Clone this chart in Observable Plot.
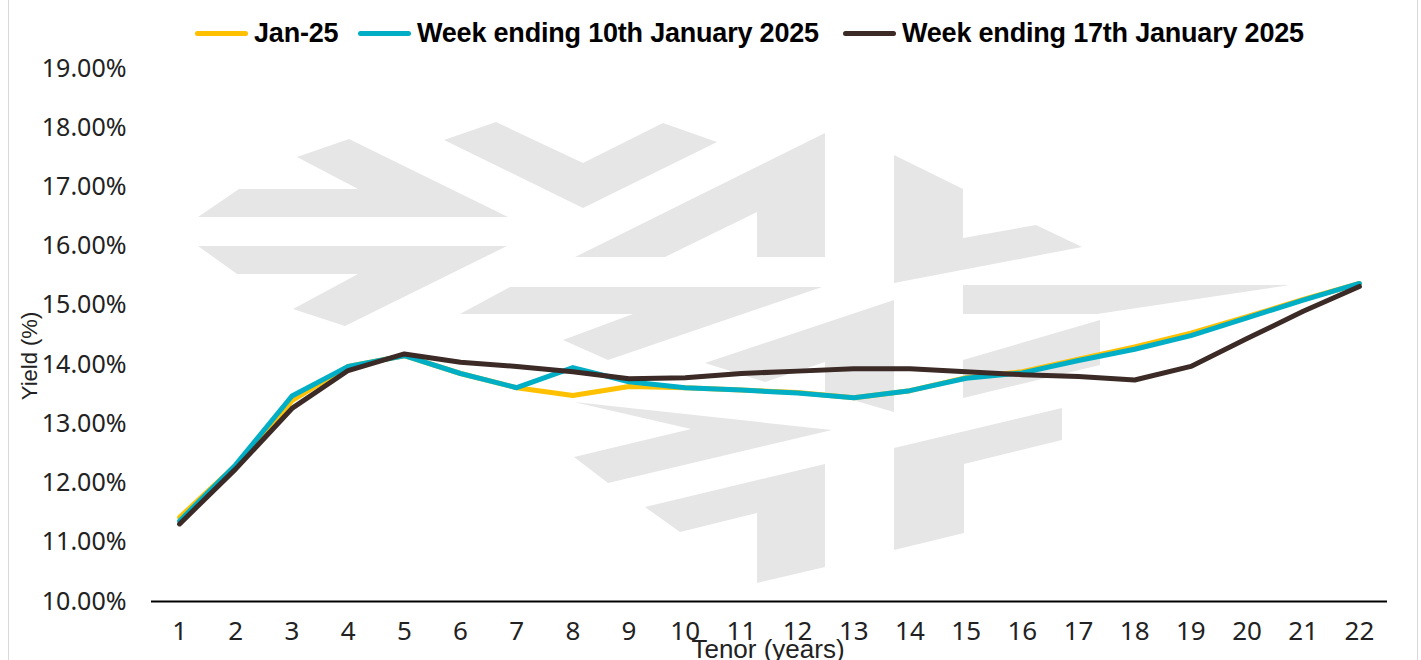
<!DOCTYPE html>
<html>
<head>
<meta charset="utf-8">
<script src="https://cdn.jsdelivr.net/npm/d3@7"></script>
<script src="https://cdn.jsdelivr.net/npm/@observablehq/plot@0.6"></script>
<style>
  html, body { margin: 0; padding: 0; background: #fff; }
  #wrap { position: relative; width: 1421px; height: 660px; overflow: hidden; font-family: "Liberation Sans", Arial, sans-serif; }
  #frame { position: absolute; left: 8px; top: -5px; width: 1410px; height: 700px; border: 1.5px solid #d9d9d9; box-sizing: border-box; }
  #wm { position: absolute; left: 0; top: 0; }
  #chart { position: absolute; left: 0; top: 0; }
  #chart svg { background: transparent !important; overflow: visible; }
  #legend { position: absolute; top: 18px; left: 0; width: 1421px; height: 30px; }
  .li { position: absolute; top: 0; height: 30px; display: flex; align-items: center; font-weight: bold; font-size: 27px; color: #000; white-space: nowrap; letter-spacing: -0.2px; }
  .sw { display: inline-block; width: 53px; height: 5px; border-radius: 3px; margin-right: 6px; }
  .ytitle { position: absolute; left: 30px; top: 356px; transform: translate(-50%, -50%) rotate(-90deg); font-size: 22px; color: #222; white-space: nowrap; }
  .xtitle { position: absolute; left: 768px; top: 634px; transform: translateX(-50%); font-size: 26px; color: #222; white-space: nowrap; }
</style>
</head>
<body>
<div id="wrap">
  <div id="frame"></div>
  <svg id="wm" width="1421" height="660"></svg>
  <div id="chart"></div>
  <div id="legend"></div>
  <div class="ytitle">Yield (%)</div>
  <div class="xtitle">Tenor (years)</div>
</div>
<script>
// ---- data ----
const tenors = [1,2,3,4,5,6,7,8,9,10,11,12,13,14,15,16,17,18,19,20,21,22];
const jan25  = [11.42,12.30,13.39,13.97,14.15,13.85,13.61,13.48,13.63,13.61,13.57,13.53,13.44,13.56,13.78,13.88,14.09,14.30,14.53,14.81,15.10,15.37];
const week10 = [11.36,12.31,13.47,13.97,14.15,13.85,13.61,13.95,13.71,13.61,13.57,13.52,13.44,13.56,13.77,13.86,14.07,14.26,14.49,14.79,15.09,15.37];
const week17 = [11.31,12.24,13.26,13.90,14.18,14.04,13.97,13.88,13.76,13.78,13.85,13.89,13.93,13.93,13.88,13.83,13.80,13.74,13.97,14.44,14.90,15.32];
const seriesNames = ["Jan-25", "Week ending 10th January 2025", "Week ending 17th January 2025"];
const seriesColors = ["#FFC000", "#00AFC6", "#3B2A25"];
const yTicks = [10,11,12,13,14,15,16,17,18,19];

// decorative watermark (logo) polygons, pixel space
const watermark = [
  "198,217 239,189 358,189 297,157 349,139 508,217",
  "198,246 507,246 345,326 293,309 358,274 237,274",
  "444,140 496,122 583,163 663,123 717,142 583,208",
  "575,257 825,133 825,257 757,257 757,212 665,257",
  "460,314 510,287 822,287 608,360 563,340 633,314",
  "894,155 963,189 963,238 1036,225 1082,247 894,283",
  "963,285 1290,285 1097,314 963,314",
  "963,360 1100,320 1100,365 963,398",
  "705,363 894,300 894,412 825,392 825,362 765,382",
  "574,402 832,430 608,483 574,457 691,429",
  "645,507 825,464 825,567 757,583 757,513 680,532",
  "894,448 1062,408 1062,440 964,464 964,533 894,550"
];
const wm = document.getElementById("wm");
for (const p of watermark) {
  const el = document.createElementNS("http://www.w3.org/2000/svg", "polygon");
  el.setAttribute("points", p);
  el.setAttribute("fill", "#e6e6e6");
  wm.appendChild(el);
}

const data = [];
[jan25, week10, week17].forEach((vals, s) => {
  tenors.forEach((t, i) => data.push({series: seriesNames[s], tenor: t, yield: vals[i]}));
});

const chart = Plot.plot({
  width: 1421,
  height: 660,
  marginLeft: 151,
  marginRight: 34,
  marginTop: 68,
  marginBottom: 59,
  style: {background: "transparent", overflow: "visible"},
  x: {type: "linear", domain: [0.5, 22.5], label: null},
  y: {domain: [10, 19], label: null},
  color: {domain: seriesNames, range: seriesColors},
  marks: [
    Plot.axisY({ticks: yTicks, tickSize: 0, tickPadding: 25, tickFormat: d => d.toFixed(2) + "%",
      fontSize: 25, fill: "#222", label: null}),
    Plot.axisX({ticks: tenors, tickSize: 0, tickPadding: 20, tickFormat: d => String(d),
      fontSize: 26, fill: "#222", label: null}),
    Plot.ruleY([10], {stroke: "#000", strokeWidth: 2}),
    Plot.line(data, {x: "tenor", y: "yield", z: "series", stroke: "series",
      strokeWidth: 5, strokeLinejoin: "round", strokeLinecap: "round"})
  ]
});
document.getElementById("chart").appendChild(chart);

// legend
const legend = document.getElementById("legend");
const legendX = [195, 358, 843];
seriesNames.forEach((n, i) => {
  const d = document.createElement("div");
  d.className = "li";
  d.style.left = legendX[i] + "px";
  d.innerHTML = `<span class="sw" style="background:${seriesColors[i]}"></span>${n}`;
  legend.appendChild(d);
});
</script>
</body>
</html>
